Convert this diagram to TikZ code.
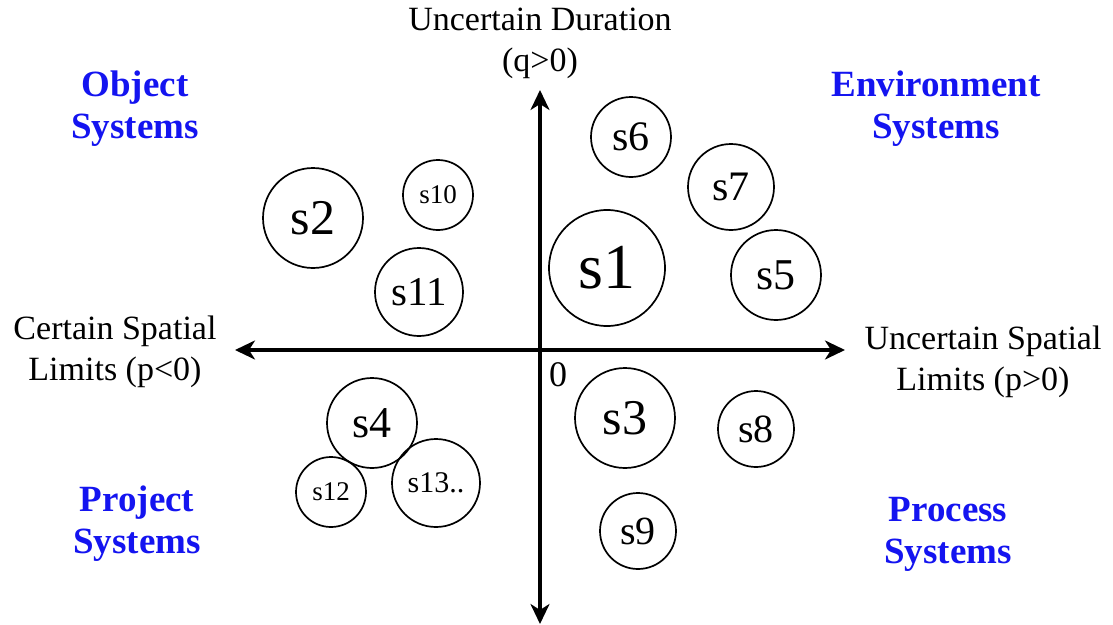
\documentclass[tikz,border=0pt]{standalone}
\usepackage{fontspec}
\setmainfont{Liberation Serif}
\usetikzlibrary{arrows.meta}
\definecolor{qblue}{RGB}{20,20,240}
\begin{document}
\begin{tikzpicture}[x=1pt,y=-1pt,
  sys/.style={circle,draw,line width=1.7pt,inner sep=0pt,minimum size=#1},
  axis/.style={line width=3.2pt,-{Stealth[length=20pt,width=19pt,inset=6pt]}},
  quad/.style={align=center,text=qblue,font=\fontsize{37}{42}\selectfont\bfseries},
  lab/.style={align=center,font=\fontsize{34}{41}\selectfont}]
\useasboundingbox (0,0) rectangle (1113,624);
\coordinate (o) at (540,350);
\coordinate (top) at (540,90);
\coordinate (bot) at (540,624);
\coordinate (left) at (235,350);
\coordinate (right) at (845,350);
\draw[axis] (o) -- (top);
\draw[axis] (o) -- (bot);
\draw[axis] (o) -- (left);
\draw[axis] (o) -- (right);
\node[font=\fontsize{36}{36}\selectfont] (zero) at (558,375) {0};
\node[lab] (ud) at (540,43) {Uncertain Duration\\(q>0)};
\node[lab] (cs) at (115,352) {Certain Spatial\\Limits (p<0)};
\node[lab] (us) at (983,362) {Uncertain Spatial\\Limits (p>0)};
\node[quad] (os) at (135,109) {Object\\Systems};
\node[quad] (es) at (936,109) {Environment\\Systems};
\node[quad] (pj) at (137,524) {Project\\Systems};
\node[quad] (pr) at (948,534) {Process\\Systems};
\node[sys=116pt,font=\fontsize{64}{64}\selectfont] (s1) at (607,268) {s1};
\node[sys=100pt,font=\fontsize{50}{50}\selectfont] (s2) at (313,218) {s2};
\node[sys=70pt,font=\fontsize{27}{27}\selectfont] (s10) at (438,195) {s10};
\node[sys=88pt,font=\fontsize{41}{41}\selectfont] (s11) at (419,292) {s11};
\node[sys=80pt,font=\fontsize{42}{42}\selectfont] (s6) at (631,137) {s6};
\node[sys=86pt,font=\fontsize{42}{42}\selectfont] (s7) at (731,187) {s7};
\node[sys=90pt,font=\fontsize{44}{44}\selectfont] (s5) at (776,275) {s5};
\node[sys=100pt,font=\fontsize{50}{50}\selectfont] (s3) at (625,418) {s3};
\node[sys=76pt,font=\fontsize{40}{40}\selectfont] (s8) at (756,429) {s8};
\node[sys=76pt,font=\fontsize{40}{40}\selectfont] (s9) at (638,531) {s9};
\node[sys=90pt,font=\fontsize{44}{44}\selectfont] (s4) at (372,423) {s4};
\node[sys=70pt,font=\fontsize{27}{27}\selectfont] (s12) at (331,492) {s12};
\node[sys=88pt,font=\fontsize{30}{30}\selectfont] (s13) at (436,483) {s13..};
\end{tikzpicture}
\end{document}
